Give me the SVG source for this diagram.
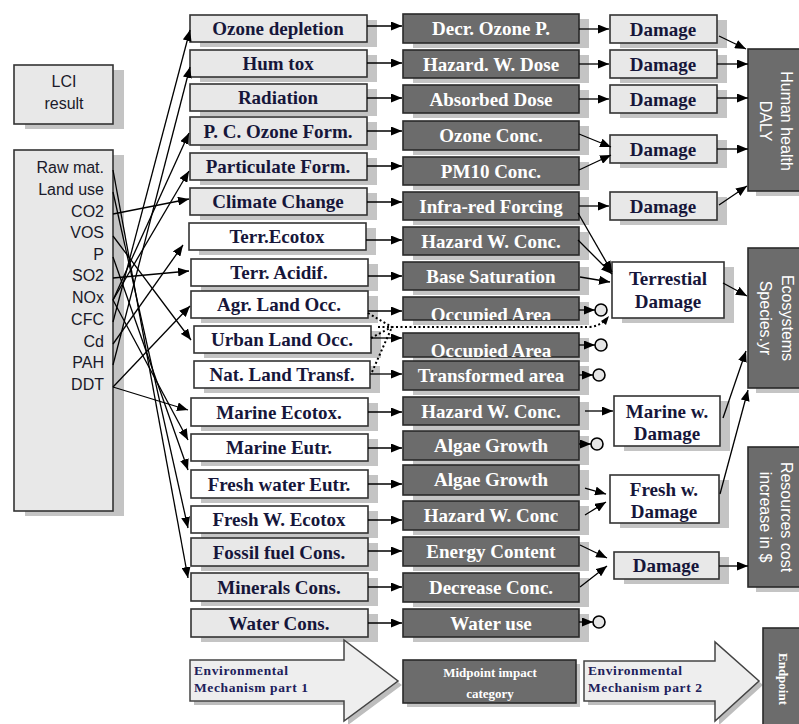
<svg xmlns="http://www.w3.org/2000/svg" width="799" height="724" viewBox="0 0 799 724">
<defs>
<marker id="ah" markerUnits="userSpaceOnUse" markerWidth="11" markerHeight="9" refX="11" refY="4.5" orient="auto"><path d="M0,0 L11,4.5 L0,9 z" fill="#000"/></marker>
<clipPath id="c9"><rect x="403" y="297" width="176" height="23"/></clipPath>
<clipPath id="c10"><rect x="403" y="333" width="176" height="24"/></clipPath>
</defs>
<style>
.sh{fill:#c4c4c4}
.lg{fill:#e8e8e8;stroke:#333;stroke-width:1.6}
.wh{fill:#fff;stroke:#333;stroke-width:1.6}
.dk{fill:#6c6c6c;stroke:#2a2a2a;stroke-width:1.6}
.t1{font-family:"Liberation Serif",serif;font-weight:bold;font-size:19px;fill:#16163a;text-anchor:middle}
.t2{font-family:"Liberation Serif",serif;font-weight:bold;font-size:19px;fill:#fff;text-anchor:middle}
.ts{font-family:"Liberation Sans",Arial,sans-serif;font-size:16px;fill:#1a1a2a}
.tw{font-family:"Liberation Sans",Arial,sans-serif;font-size:16px;fill:#fff;text-anchor:middle}
.ln{stroke:#000;stroke-width:1.3;fill:none}
.la{stroke:#000;stroke-width:1.3;fill:none;marker-end:url(#ah)}
.dt{stroke:#000;stroke-width:2;fill:none;stroke-dasharray:2,2.5}
.ci{fill:#e6e6e6;stroke:#000;stroke-width:1.6}
.sm{font-family:"Liberation Serif",serif;font-weight:bold;font-size:13.5px;fill:#20205a;letter-spacing:0.6px}
.smw{font-family:"Liberation Serif",serif;font-weight:bold;font-size:13px;fill:#fff;text-anchor:middle}
</style>

<g id="lci-result"><rect class="sh" x="25" y="70" width="99" height="59"/><rect class="lg" x="14" y="65" width="99" height="59"/><text class="ts" x="64" y="87" text-anchor="middle">LCI</text><text class="ts" x="64" y="109" text-anchor="middle">result</text></g>

<g id="lci-list"><rect class="sh" x="25" y="155" width="99" height="361"/><rect class="lg" x="14" y="150" width="99" height="361"/>
<g class="ts" text-anchor="end"><text x="104" y="173">Raw mat.</text><text x="104" y="195">Land use</text><text x="104" y="217">CO2</text><text x="104" y="238">VOS</text><text x="104" y="260">P</text><text x="104" y="281">SO2</text><text x="104" y="303">NOx</text><text x="104" y="325">CFC</text><text x="104" y="347">Cd</text><text x="104" y="368">PAH</text><text x="104" y="390">DDT</text></g></g>

<!-- column 1: impact categories -->
<g id="c1-ozone"><rect class="sh" x="200" y="20" width="177" height="27"/><rect class="lg" x="190" y="15" width="177" height="27"/><text class="t1" x="278" y="35">Ozone depletion</text></g>
<g id="c1-humtox"><rect class="sh" x="200" y="55" width="177" height="27"/><rect class="lg" x="190" y="50" width="177" height="27"/><text class="t1" x="278" y="70">Hum tox</text></g>
<g id="c1-radiation"><rect class="sh" x="200" y="89" width="177" height="27"/><rect class="lg" x="190" y="84" width="177" height="27"/><text class="t1" x="278" y="104">Radiation</text></g>
<g id="c1-pcozone"><rect class="sh" x="200" y="122" width="177" height="28"/><rect class="lg" x="190" y="117" width="177" height="28"/><text class="t1" x="278" y="138">P. C. Ozone Form.</text></g>
<g id="c1-particulate"><rect class="sh" x="200" y="158" width="177" height="27"/><rect class="lg" x="190" y="153" width="177" height="27"/><text class="t1" x="278" y="173">Particulate Form.</text></g>
<g id="c1-climate"><rect class="sh" x="200" y="193" width="177" height="27"/><rect class="lg" x="190" y="188" width="177" height="27"/><text class="t1" x="278" y="208">Climate Change</text></g>
<g id="c1-terrecotox"><rect class="sh" x="199" y="228" width="177" height="27"/><rect class="wh" x="189" y="223" width="177" height="27"/><text class="t1" x="277" y="243">Terr.Ecotox</text></g>
<g id="c1-terracid"><rect class="sh" x="201" y="264" width="177" height="27"/><rect class="wh" x="191" y="259" width="177" height="27"/><text class="t1" x="279" y="279">Terr. Acidif.</text></g>
<g id="c1-agr"><rect class="sh" x="201" y="296" width="177" height="27"/><rect class="wh" x="191" y="291" width="177" height="27"/><text class="t1" x="279" y="311">Agr. Land Occ.</text></g>
<g id="c1-urban"><rect class="sh" x="204" y="331" width="177" height="27"/><rect class="wh" x="194" y="326" width="177" height="27"/><text class="t1" x="282" y="346">Urban Land Occ.</text></g>
<g id="c1-nat"><rect class="sh" x="204" y="366" width="176" height="27"/><rect class="wh" x="194" y="361" width="176" height="27"/><text class="t1" x="282" y="381">Nat. Land Transf.</text></g>
<g id="c1-marineecotox"><rect class="sh" x="201" y="403" width="177" height="28"/><rect class="wh" x="191" y="398" width="177" height="28"/><text class="t1" x="279" y="419">Marine Ecotox.</text></g>
<g id="c1-marineeutr"><rect class="sh" x="201" y="439" width="177" height="27"/><rect class="wh" x="191" y="434" width="177" height="27"/><text class="t1" x="279" y="454">Marine Eutr.</text></g>
<g id="c1-fresheutr"><rect class="sh" x="201" y="475" width="177" height="28"/><rect class="wh" x="191" y="470" width="177" height="28"/><text class="t1" x="279" y="491">Fresh water Eutr.</text></g>
<g id="c1-freshecotox"><rect class="sh" x="201" y="511" width="177" height="27"/><rect class="wh" x="191" y="506" width="177" height="27"/><text class="t1" x="279" y="526">Fresh W. Ecotox</text></g>
<g id="c1-fossil"><rect class="sh" x="201" y="543" width="177" height="28"/><rect class="lg" x="191" y="538" width="177" height="28"/><text class="t1" x="279" y="559">Fossil fuel Cons.</text></g>
<g id="c1-minerals"><rect class="sh" x="201" y="578" width="177" height="28"/><rect class="lg" x="191" y="573" width="177" height="28"/><text class="t1" x="279" y="594">Minerals Cons.</text></g>
<g id="c1-water"><rect class="sh" x="201" y="614" width="177" height="28"/><rect class="lg" x="191" y="609" width="177" height="28"/><text class="t1" x="279" y="630">Water Cons.</text></g>

<!-- column 2: midpoint -->
<g id="c2-decrozone"><rect class="sh" x="413" y="19" width="176" height="29"/><rect class="dk" x="403" y="14" width="176" height="29"/><text class="t2" x="491" y="35">Decr. Ozone P.</text></g>
<g id="c2-hwdose"><rect class="sh" x="413" y="55" width="176" height="28"/><rect class="dk" x="403" y="50" width="176" height="28"/><text class="t2" x="491" y="71">Hazard. W. Dose</text></g>
<g id="c2-absorbed"><rect class="sh" x="413" y="90" width="176" height="28"/><rect class="dk" x="403" y="85" width="176" height="28"/><text class="t2" x="491" y="106">Absorbed Dose</text></g>
<g id="c2-ozoneconc"><rect class="sh" x="413" y="126" width="176" height="29"/><rect class="dk" x="403" y="121" width="176" height="29"/><text class="t2" x="491" y="142">Ozone Conc.</text></g>
<g id="c2-pm10"><rect class="sh" x="413" y="162" width="176" height="28"/><rect class="dk" x="403" y="157" width="176" height="28"/><text class="t2" x="491" y="178">PM10 Conc.</text></g>
<g id="c2-infrared"><rect class="sh" x="413" y="197" width="176" height="28"/><rect class="dk" x="403" y="192" width="176" height="28"/><text class="t2" x="491" y="213">Infra-red Forcing</text></g>
<g id="c2-hwconc1"><rect class="sh" x="413" y="232" width="176" height="28"/><rect class="dk" x="403" y="227" width="176" height="28"/><text class="t2" x="491" y="248">Hazard W. Conc.</text></g>
<g id="c2-basesat"><rect class="sh" x="413" y="267" width="176" height="28"/><rect class="dk" x="403" y="262" width="176" height="28"/><text class="t2" x="491" y="283">Base Saturation</text></g>
<g id="c2-occ1"><rect class="sh" x="413" y="302" width="176" height="23"/><rect class="dk" x="403" y="297" width="176" height="23"/><text class="t2" x="491" y="321" clip-path="url(#c9)">Occupied Area</text></g>
<g id="c2-occ2"><rect class="sh" x="413" y="338" width="176" height="24"/><rect class="dk" x="403" y="333" width="176" height="24"/><text class="t2" x="491" y="357" clip-path="url(#c10)">Occupied Area</text></g>
<g id="c2-transformed"><rect class="sh" x="413" y="366" width="176" height="29"/><rect class="dk" x="403" y="361" width="176" height="29"/><text class="t2" x="491" y="382">Transformed area</text></g>
<g id="c2-hwconc2"><rect class="sh" x="413" y="402" width="176" height="28"/><rect class="dk" x="403" y="397" width="176" height="28"/><text class="t2" x="491" y="418">Hazard W. Conc.</text></g>
<g id="c2-algae1"><rect class="sh" x="413" y="436" width="176" height="29"/><rect class="dk" x="403" y="431" width="176" height="29"/><text class="t2" x="491" y="452">Algae Growth</text></g>
<g id="c2-algae2"><rect class="sh" x="413" y="470" width="176" height="30"/><rect class="dk" x="403" y="465" width="176" height="30"/><text class="t2" x="491" y="486">Algae Growth</text></g>
<g id="c2-hwconc3"><rect class="sh" x="413" y="506" width="176" height="29"/><rect class="dk" x="403" y="501" width="176" height="29"/><text class="t2" x="491" y="522">Hazard W. Conc</text></g>
<g id="c2-energy"><rect class="sh" x="413" y="542" width="176" height="29"/><rect class="dk" x="403" y="537" width="176" height="29"/><text class="t2" x="491" y="558">Energy Content</text></g>
<g id="c2-decrconc"><rect class="sh" x="413" y="578" width="176" height="29"/><rect class="dk" x="403" y="573" width="176" height="29"/><text class="t2" x="491" y="594">Decrease Conc.</text></g>
<g id="c2-wateruse"><rect class="sh" x="413" y="614" width="176" height="28"/><rect class="dk" x="403" y="609" width="176" height="28"/><text class="t2" x="491" y="630">Water use</text></g>

<!-- column 3: damage -->
<g id="d1"><rect class="sh" x="620" y="20" width="107" height="28"/><rect class="lg" x="610" y="15" width="107" height="28"/><text class="t1" x="663" y="36">Damage</text></g>
<g id="d2"><rect class="sh" x="620" y="55" width="107" height="28"/><rect class="lg" x="610" y="50" width="107" height="28"/><text class="t1" x="663" y="71">Damage</text></g>
<g id="d3"><rect class="sh" x="620" y="90" width="107" height="28"/><rect class="lg" x="610" y="85" width="107" height="28"/><text class="t1" x="663" y="106">Damage</text></g>
<g id="d4"><rect class="sh" x="620" y="140" width="107" height="28"/><rect class="lg" x="610" y="135" width="107" height="28"/><text class="t1" x="663" y="156">Damage</text></g>
<g id="d5"><rect class="sh" x="620" y="197" width="107" height="28"/><rect class="lg" x="610" y="192" width="107" height="28"/><text class="t1" x="663" y="213">Damage</text></g>
<g id="d-terr"><rect class="sh" x="622" y="267" width="112" height="56"/><rect class="wh" x="612" y="262" width="112" height="56"/><text class="t1" x="668" y="285">Terrestial</text><text class="t1" x="668" y="308">Damage</text></g>
<g id="d-marine"><rect class="sh" x="624" y="401" width="106" height="50"/><rect class="wh" x="614" y="396" width="106" height="50"/><text class="t1" x="667" y="418">Marine w.</text><text class="t1" x="667" y="440">Damage</text></g>
<g id="d-fresh"><rect class="sh" x="620" y="480" width="109" height="48"/><rect class="wh" x="610" y="475" width="109" height="48"/><text class="t1" x="664" y="496">Fresh w.</text><text class="t1" x="664" y="518">Damage</text></g>
<g id="d-res"><rect class="sh" x="624" y="557" width="105" height="27"/><rect class="lg" x="614" y="552" width="105" height="27"/><text class="t1" x="666" y="572">Damage</text></g>

<!-- endpoints -->
<g id="ep-human"><rect class="sh" x="756" y="54" width="60" height="142"/><rect class="dk" x="748" y="49" width="60" height="142"/><g transform="translate(787,121) rotate(90)"><text class="tw" x="0" y="6">Human health</text></g><g transform="translate(766,121) rotate(90)"><text class="tw" x="0" y="6">DALY</text></g></g>
<g id="ep-eco"><rect class="sh" x="756" y="253" width="60" height="140"/><rect class="dk" x="748" y="248" width="60" height="140"/><g transform="translate(788,318) rotate(90)"><text class="tw" x="0" y="6">Ecosystems</text></g><g transform="translate(766,318) rotate(90)"><text class="tw" x="0" y="6">Species.yr</text></g></g>
<g id="ep-res"><rect class="sh" x="756" y="452" width="60" height="140"/><rect class="dk" x="748" y="447" width="60" height="140"/><g transform="translate(787,517) rotate(90)"><text class="tw" x="0" y="6">Resources cost</text></g><g transform="translate(766,517) rotate(90)"><text class="tw" x="0" y="6">increase in $</text></g></g>

<!-- legend -->
<g id="legend-arrow1"><polygon points="194,664 348,664 348,644 402,685 348,725 348,705 194,705" fill="#bdbdbd"/><polygon points="190,660 344,660 344,640 398,681 344,721 344,701 190,701" fill="#eeeeee" stroke="#444" stroke-width="1.5"/><text class="sm" x="194" y="675">Environmental</text><text class="sm" x="194" y="692">Mechanism part 1</text></g>
<g id="legend-midpoint"><rect class="sh" x="407" y="664" width="173" height="43"/><rect class="dk" x="403" y="660" width="173" height="43"/><text class="smw" x="490" y="677">Midpoint impact</text><text class="smw" x="490" y="698">category</text></g>
<g id="legend-arrow2"><polygon points="588,665 719,665 719,646 763,685 719,725 719,705 588,705" fill="#bdbdbd"/><polygon points="584,661 715,661 715,642 759,681 715,721 715,701 584,701" fill="#eeeeee" stroke="#444" stroke-width="1.5"/><text class="sm" x="588" y="675">Environmental</text><text class="sm" x="588" y="692">Mechanism part 2</text></g>
<g id="legend-endpoint"><rect class="sh" x="768" y="633" width="40" height="100"/><rect class="dk" x="763" y="628" width="45" height="110"/><g transform="translate(784,679) rotate(90)"><text class="smw" x="0" y="5">Endpoint</text></g></g>

<g id="connectors">
<!-- LCI to impact categories -->
<path class="la" d="M113,170 L188,578"/>
<path class="la" d="M113,192 L188,528"/>
<path class="la" d="M113,214 L189,199"/>
<path class="la" d="M113,236 L191,340"/>
<path class="la" d="M113,257 L188,470"/>
<path class="la" d="M113,278 L189,271"/>
<path class="la" d="M113,300 L189,133"/>
<path class="la" d="M113,300 L189,171"/>
<path class="la" d="M113,300 L188,440"/>
<path class="la" d="M113,322 L190,30"/>
<path class="la" d="M113,344 L183,245"/>
<path class="la" d="M113,365 L190,67"/>
<path class="la" d="M113,387 L190,306"/>
<path class="la" d="M113,387 L188,410"/>
<!-- column1 to column2 -->
<path class="la" d="M367,26 H402"/>
<path class="la" d="M367,63 H402"/>
<path class="la" d="M367,98 H402"/>
<path class="la" d="M367,131 H402"/>
<path class="la" d="M367,166 H402"/>
<path class="la" d="M367,202 H402"/>
<path class="la" d="M366,240 H402"/>
<path class="la" d="M368,276 H402"/>
<path class="la" d="M368,311 H402"/>
<path class="la" d="M371,338 H402"/>
<path class="la" d="M370,374 H402"/>
<path class="la" d="M368,412 H402"/>
<path class="la" d="M368,448 H402"/>
<path class="la" d="M368,484 H402"/>
<path class="la" d="M368,520 H402"/>
<path class="la" d="M368,551 H402"/>
<path class="la" d="M368,587 H402"/>
<path class="la" d="M368,623 H402"/>
<!-- dotted land use links -->
<path class="dt" d="M368,313 L392,327"/>
<path class="dt" d="M371,338 L392,327"/>
<path class="dt" d="M372,372 L392,327"/>
<path class="dt" d="M378,327 H590 Q600,326 606,319"/>
<path d="M601,321 L609,316 L606,325 z" fill="#000"/>
<!-- column2 to column3 -->
<path class="la" d="M579,29 H609"/>
<path class="la" d="M579,64 H609"/>
<path class="la" d="M579,99 H609"/>
<path class="la" d="M579,134 L611,147"/>
<path class="la" d="M579,170 L611,155"/>
<path class="la" d="M579,206 H609"/>
<path class="la" d="M578,213 L612,272"/>
<path class="la" d="M578,240 L612,274"/>
<path class="la" d="M580,277 L610,282"/>
<path class="la" d="M579,310 H595"/><circle class="ci" cx="601" cy="310" r="6"/>
<path class="la" d="M579,345 H595"/><circle class="ci" cx="601" cy="345" r="6"/>
<path class="la" d="M579,375 H593"/><circle class="ci" cx="599" cy="375" r="6"/>
<path class="la" d="M585,411 H613"/>
<path class="la" d="M579,444 H591"/><circle class="ci" cx="597" cy="444" r="6"/>
<path class="la" d="M585,488 L606,494"/>
<path class="la" d="M585,515 L606,502"/>
<path class="la" d="M580,545 L607,558"/>
<path class="la" d="M580,587 L607,566"/>
<path class="la" d="M579,622 H593"/><circle class="ci" cx="599" cy="622" r="6"/>
<!-- column3 to endpoints -->
<path class="la" d="M719,36 L746,49"/>
<path class="la" d="M717,64 H748"/>
<path class="la" d="M717,98 H748"/>
<path class="la" d="M717,149 H748"/>
<path class="la" d="M719,205 L747,186"/>
<path class="la" d="M723,283 L747,296"/>
<path class="la" d="M723,418 L746,351"/>
<path class="la" d="M720,494 L748,390"/>
<path class="la" d="M719,566 H748"/>
</g>
</svg>
